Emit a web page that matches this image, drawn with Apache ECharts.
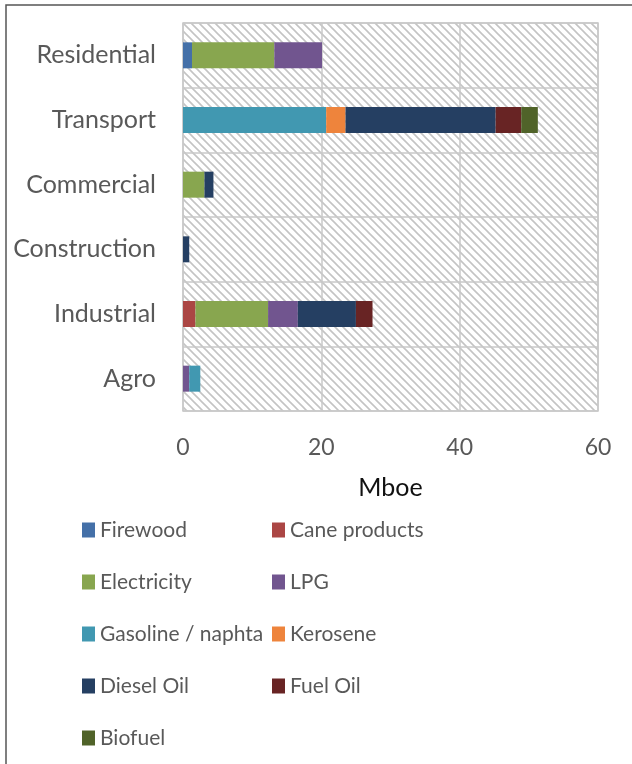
<!DOCTYPE html>
<html>
<head>
<meta charset="utf-8">
<script src="https://cdn.jsdelivr.net/npm/echarts@6/dist/echarts.min.js"></script>
<style>
  html, body { margin: 0; padding: 0; background: #fff; }
  #chart { width: 632px; height: 764px; }
</style>
</head>
<body>
<div id="chart"></div>
<script>
// Final energy consumption by sector and source (Mboe)
const sectors = ['Residential', 'Transport', 'Commercial', 'Construction', 'Industrial', 'Agro'];

const firewood    = [1.3, 0, 0, 0, 0, 0];
const caneProducts = [0, 0, 0, 0, 1.8, 0];
const electricity = [11.9, 0, 3.1, 0, 10.5, 0];
const lpg         = [6.9, 0, 0, 0, 4.3, 0.9];
const gasoline    = [0, 20.7, 0, 0, 0, 1.6];
const kerosene    = [0, 2.8, 0, 0, 0, 0];
const dieselOil   = [0, 21.7, 1.3, 0.9, 8.4, 0];
const fuelOil     = [0, 3.7, 0, 0, 2.4, 0];
const biofuel     = [0, 2.4, 0, 0, 0, 0];

const xTicks = [0, 20, 40, 60];

const seriesDefs = [
  ['Firewood', firewood, '#4470A8'],
  ['Cane products', caneProducts, '#AB4644'],
  ['Electricity', electricity, '#88A64F'],
  ['LPG', lpg, '#71558F'],
  ['Gasoline / naphta', gasoline, '#4198B1'],
  ['Kerosene', kerosene, '#EE843C'],
  ['Diesel Oil', dieselOil, '#253F62'],
  ['Fuel Oil', fuelOil, '#682424'],
  ['Biofuel', biofuel, '#506329']
];

// Diagonal hatch used as the plot background
function hatch() {
  const c = document.createElement('canvas');
  const s = 8;
  c.width = s; c.height = s;
  const g = c.getContext('2d');
  g.fillStyle = '#ffffff';
  g.fillRect(0, 0, s, s);
  g.strokeStyle = '#c4c4c4';
  g.lineWidth = 1.6;
  g.beginPath();
  g.moveTo(-1, -1); g.lineTo(s + 1, s + 1);
  g.moveTo(-1, s - 1); g.lineTo(1, s + 1);
  g.moveTo(s - 1, -1); g.lineTo(s + 1, 1);
  g.stroke();
  return c;
}

const FONT = 'Lato';
const TXT = '#595959';

const chart = echarts.init(document.getElementById('chart'), null, { renderer: 'canvas' });

const leftNames = ['Firewood', 'Electricity', 'Gasoline / naphta', 'Diesel Oil', 'Biofuel'];
const rightNames = ['Cane products', 'LPG', 'Kerosene', 'Fuel Oil'];

const legendBase = {
  orient: 'vertical',
  top: 518,
  padding: 0,
  itemWidth: 13,
  itemHeight: 15,
  itemGap: 28,
  icon: 'rect',
  textStyle: { fontFamily: FONT, fontSize: 21, color: TXT, lineHeight: 24 },
  selectedMode: false
};

chart.setOption({
  animation: false,
  backgroundColor: '#ffffff',
  graphic: [{
    type: 'rect',
    shape: { x: 6, y: 5, width: 700, height: 900 },
    style: { fill: 'none', stroke: '#555555', lineWidth: 1.5 },
    silent: true
  }],
  grid: {
    left: 183, top: 23, right: 34, bottom: 353,
    show: true,
    backgroundColor: { image: hatch(), repeat: 'repeat' },
    borderColor: '#c8c8c8',
    borderWidth: 1.5
  },
  legend: [
    Object.assign({}, legendBase, { left: 82, data: leftNames }),
    Object.assign({}, legendBase, { left: 272, data: rightNames })
  ],
  xAxis: {
    type: 'value',
    min: xTicks[0],
    max: xTicks[xTicks.length - 1],
    interval: xTicks[1] - xTicks[0],
    name: 'Mboe',
    nameLocation: 'middle',
    nameGap: 64,
    nameTextStyle: { fontFamily: FONT, fontSize: 25, color: '#111111' },
    axisLine: { show: false },
    axisTick: { show: false },
    axisLabel: { fontFamily: FONT, fontSize: 23, color: TXT, margin: 25 },
    splitLine: { show: true, lineStyle: { color: '#c8c8c8', width: 1.5 } }
  },
  yAxis: {
    type: 'category',
    data: sectors,
    inverse: true,
    axisLine: { show: false },
    axisTick: { show: false },
    axisLabel: { fontFamily: FONT, fontSize: 25, color: TXT, margin: 27 },
    splitLine: { show: true, lineStyle: { color: '#c8c8c8', width: 1.5 } }
  },
  series: seriesDefs.map(([name, data, color]) => ({
    name: name,
    type: 'bar',
    stack: 'total',
    data: data,
    barWidth: 26,
    itemStyle: { color: color },
    emphasis: { disabled: true }
  }))
});
</script>
</body>
</html>
